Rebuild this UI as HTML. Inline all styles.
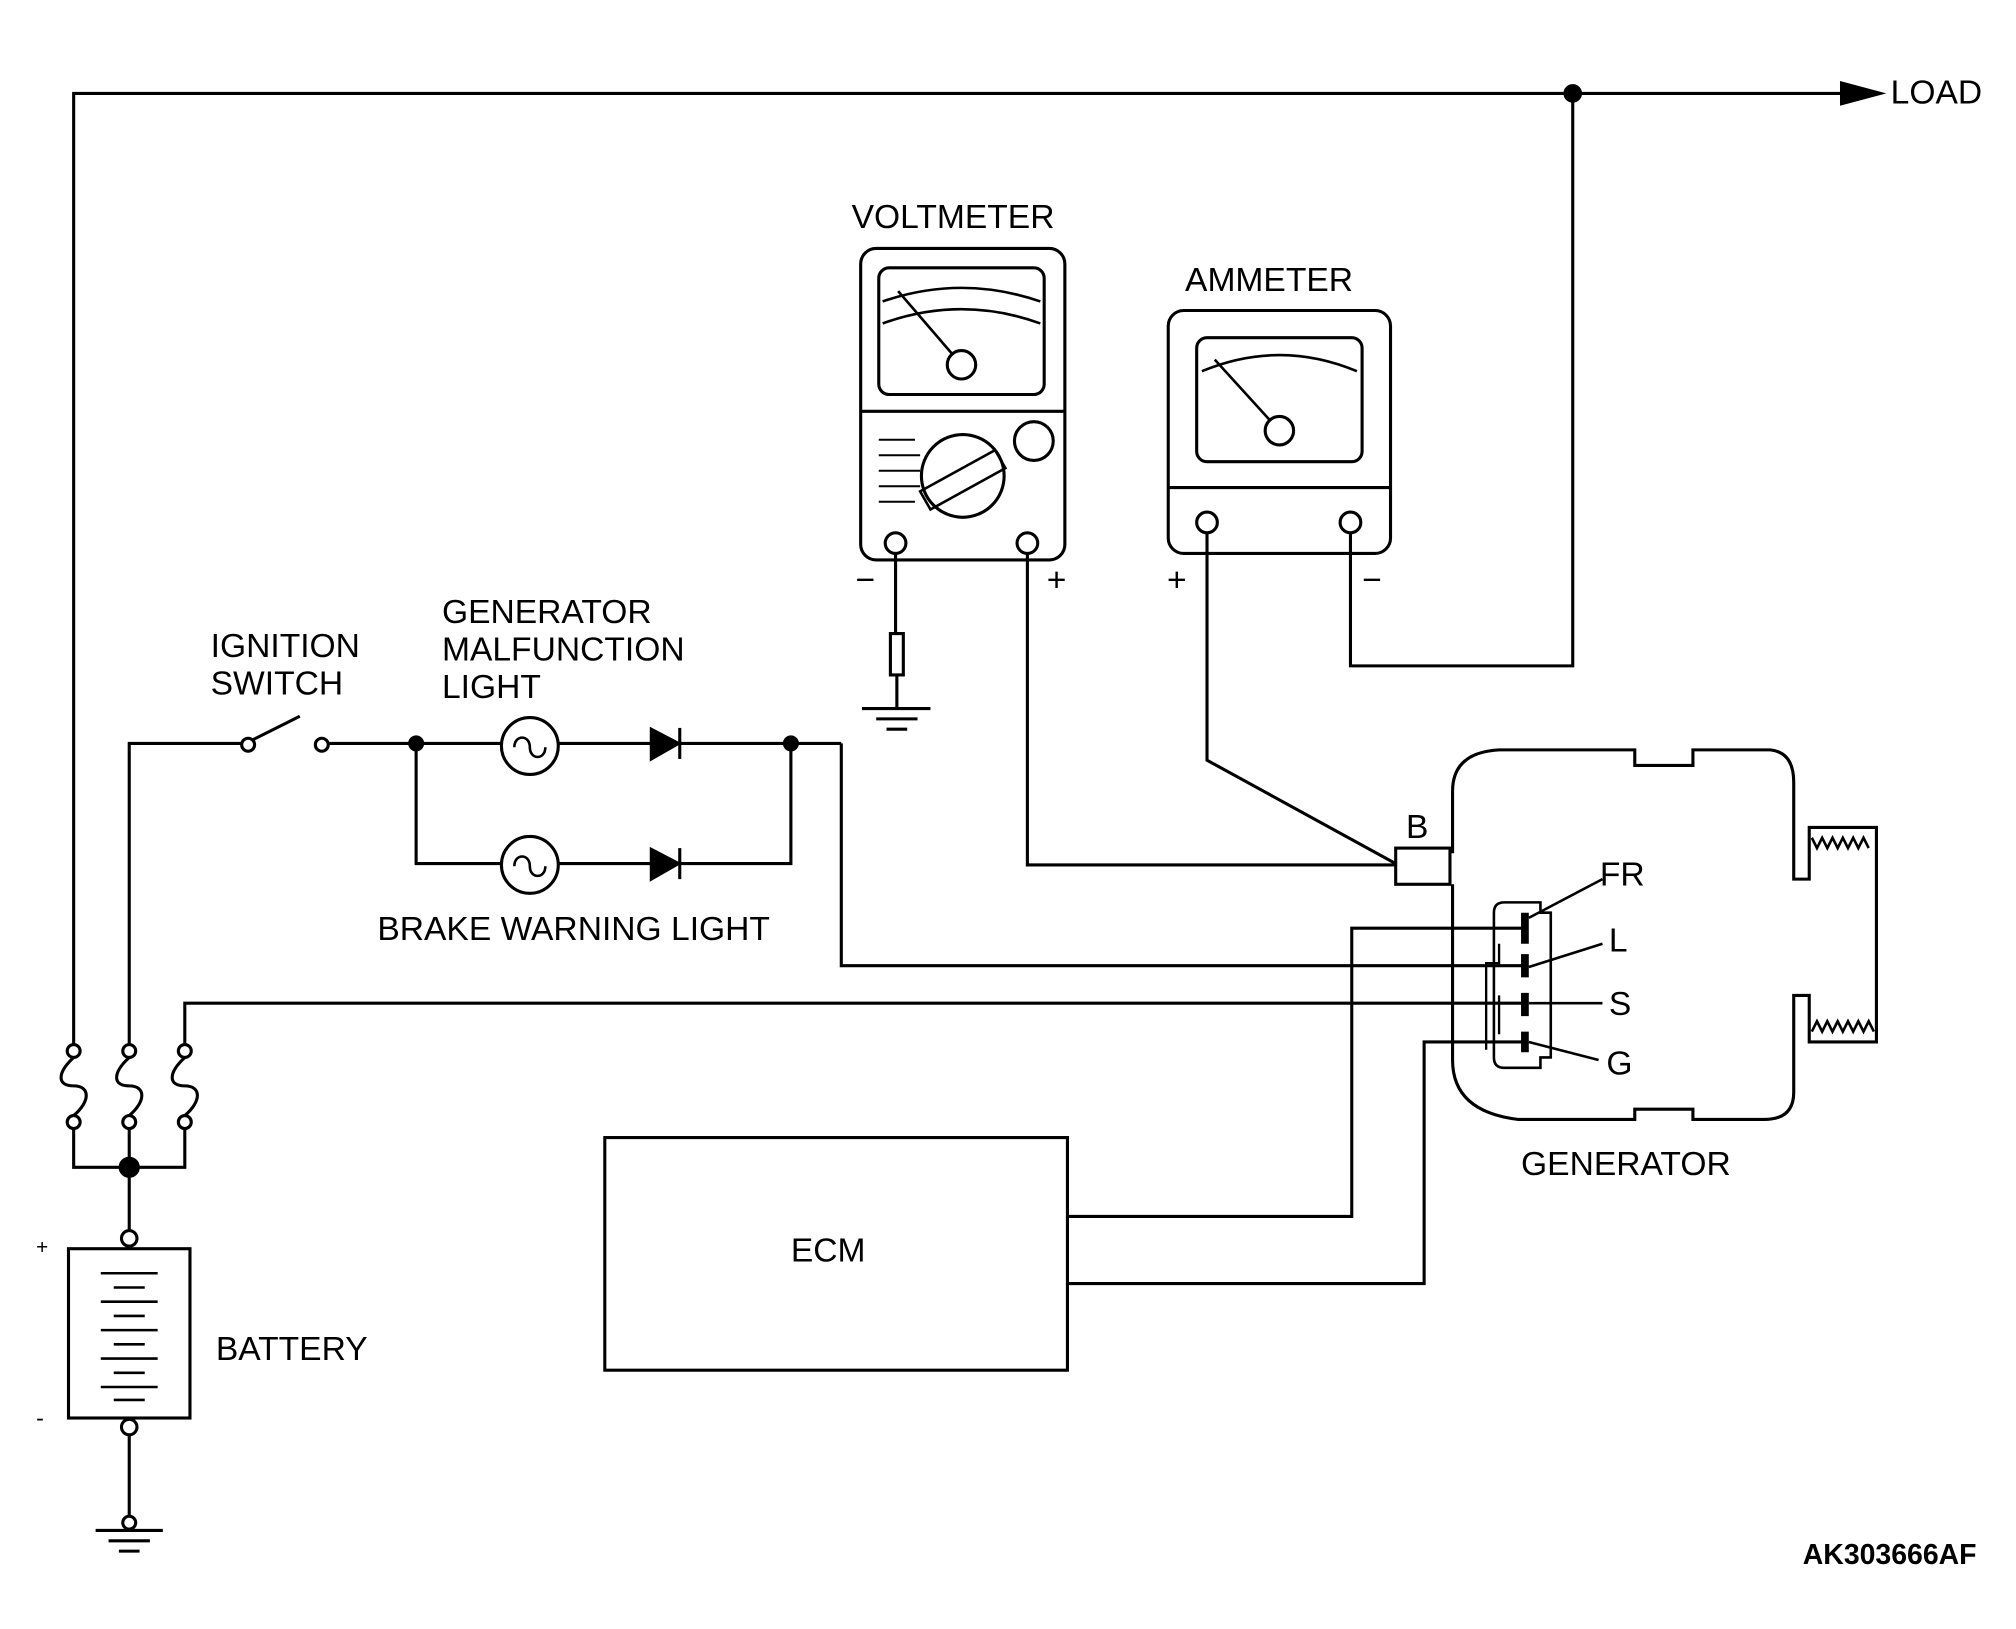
<!DOCTYPE html>
<html><head><style>html,body{margin:0;padding:0;background:#fff}svg{display:block}</style></head><body>
<svg width="2016" height="1629" viewBox="0 0 1560 1260" xmlns="http://www.w3.org/2000/svg" font-family="Liberation Sans, sans-serif" font-size="26" fill="none" stroke="#000" stroke-width="2.4">
<!-- top wire -->
<path d="M57 808V72H1430"/>
<path d="M1425 64L1455 72L1425 80Z" fill="#000"/>
<circle cx="1217" cy="72" r="6" fill="#000"/>
<path d="M1217 72V515H1045V412"/>
<!-- fuses -->
<g>
<circle cx="57" cy="813" r="5" fill="#fff"/><circle cx="57" cy="868" r="5" fill="#fff"/>
<path d="M57 818C44 830 44 840 57 840C70 840 70 852 57 863"/>
<circle cx="100" cy="813" r="5" fill="#fff"/><circle cx="100" cy="868" r="5" fill="#fff"/>
<path d="M100 818C87 830 87 840 100 840C113 840 113 852 100 863"/>
<circle cx="143" cy="813" r="5" fill="#fff"/><circle cx="143" cy="868" r="5" fill="#fff"/>
<path d="M143 818C130 830 130 840 143 840C156 840 156 852 143 863"/>
</g>
<path d="M57 873V903H143V873M100 873V952"/>
<circle cx="100" cy="903" r="7" fill="#000"/>
<!-- battery -->
<circle cx="100" cy="958" r="6" fill="#fff"/>
<rect x="53" y="966" width="94" height="131"/>
<g stroke-width="2">
<path d="M78 985H122M88 996H112M78 1007H122M88 1018H112M78 1029H122M88 1040H112M78 1051H122M88 1062H112M78 1073H122M88 1083H112"/>
</g>
<circle cx="100" cy="1104" r="6" fill="#fff"/>
<path d="M100 1110V1184M74 1184H126M84 1192H116M92 1200H108"/>
<circle cx="100" cy="1178" r="5" fill="#fff"/>
<text x="28" y="970" font-size="16" fill="#000" stroke="none">+</text>
<text x="28" y="1103" font-size="18" fill="#000" stroke="none">-</text>
<text x="167" y="1052" fill="#000" stroke="none">BATTERY</text>
<!-- ignition -->
<path d="M100 808V575H188M196 572L232 554M255 575H612M322 575V668H612V575M651 575H612M651 575V747H1180M143 808V776H1180"/>
<circle cx="192" cy="576" r="5" fill="#fff"/><circle cx="249" cy="576" r="5" fill="#fff"/>
<circle cx="322" cy="575" r="5" fill="#000"/><circle cx="612" cy="575" r="5" fill="#000"/>
<circle cx="410" cy="577" r="22" fill="#fff"/>
<path d="M398 578C398 568 410 568 410 578C410 588 422 588 422 578" stroke-width="2"/>
<circle cx="410" cy="669" r="22" fill="#fff"/>
<path d="M398 670C398 660 410 660 410 670C410 680 422 680 422 670" stroke-width="2"/>
<path d="M504 564L525 575L504 587Z" fill="#000"/><path d="M526 563V587"/>
<path d="M504 657L525 668L504 680Z" fill="#000"/><path d="M526 656V680"/>
<g fill="#000" stroke="none">
<text x="163" y="508">IGNITION</text><text x="163" y="537">SWITCH</text>
<text x="342" y="482">GENERATOR</text><text x="342" y="511">MALFUNCTION</text><text x="342" y="540">LIGHT</text>
<text x="292" y="727">BRAKE WARNING LIGHT</text>
<text x="659" y="176">VOLTMETER</text><text x="917" y="225">AMMETER</text>
<text x="612" y="976">ECM</text><text x="1177" y="909">GENERATOR</text>
<text x="1463" y="80">LOAD</text>
<text x="1088" y="648">B</text><text x="1238" y="685">FR</text><text x="1245" y="736">L</text><text x="1245" y="785">S</text><text x="1243" y="831">G</text>
<text x="1395" y="1210" font-weight="bold" font-size="22">AK303666AF</text>
<text x="662" y="457">−</text><text x="810" y="457">+</text>
<text x="903" y="457">+</text><text x="1054" y="457">−</text>
</g>
<!-- ECM -->
<rect x="468" y="880" width="358" height="180"/>
<path d="M1180 718H1046V941H827M1180 806H1102V993H827"/>
<!-- voltmeter -->
<rect x="666" y="192" width="158" height="241" rx="12"/>
<rect x="680" y="207" width="128" height="98" rx="8"/>
<path d="M683 233Q744 212 805 233M683 250Q744 228 805 250M744 282L695 225" stroke-width="2"/>
<circle cx="744" cy="282" r="11" fill="#fff"/>
<path d="M666 318H824"/>
<circle cx="745" cy="368" r="32"/>
<circle cx="800" cy="341" r="15"/>
<path d="M712 380L770 348L778 362L720 394Z" stroke-width="2"/>
<path d="M680 340H708M680 352H712M680 364H712M680 376H712M680 388H708" stroke-width="1.5"/>
<circle cx="693" cy="420" r="8"/><circle cx="795" cy="420" r="8"/>
<path d="M693 428V490M689 490H699V522H689ZM694 522V548M667 548H720M678 556H710M686 564H702"/>
<path d="M795 428V669H1080"/>
<!-- ammeter -->
<rect x="904" y="240" width="172" height="188" rx="12"/>
<rect x="926" y="261" width="128" height="96" rx="8"/>
<path d="M930 287Q990 262 1050 287M990 333L940 278" stroke-width="2"/>
<circle cx="990" cy="333" r="11" fill="#fff"/>
<path d="M904 377H1076"/>
<circle cx="934" cy="404" r="8"/><circle cx="1045" cy="404" r="8"/>
<path d="M934 412V588L1080 668"/>
<!-- generator -->
<path d="M1124 660V612Q1124 582 1160 580H1265V592H1310V580H1370Q1388 582 1388 605V680H1400V640H1452V806H1400V770H1388V845Q1388 866 1365 866H1310V858H1265V866H1175Q1124 860 1124 820V684"/>
<path d="M1402 648l4 8 4-8 4 8 4-8 4 8 4-8 4 8 4-8 4 8 4-8 4 8 M1402 798l4-8 4 8 4-8 4 8 4-8 4 8 4-8 4 8 4-8 4 8 4-8 4 8" stroke-width="2"/>
<rect x="1080" y="656" width="42" height="28" fill="#fff"/>
<path d="M1164 698H1192V706H1200V818H1192V826H1164Q1156 826 1156 818V706Q1156 698 1164 698Z" stroke-width="2"/>
<path d="M1160 730V745H1150V812M1160 770V800" stroke-width="1.8"/>
<path d="M1180 706V730M1180 738V756M1180 768V786M1180 798V814" stroke-width="6"/>
<path d="M1183 710L1240 680M1183 748L1240 730M1183 776L1240 776M1183 806L1237 820" stroke-width="2"/>
</svg>
</body></html>
